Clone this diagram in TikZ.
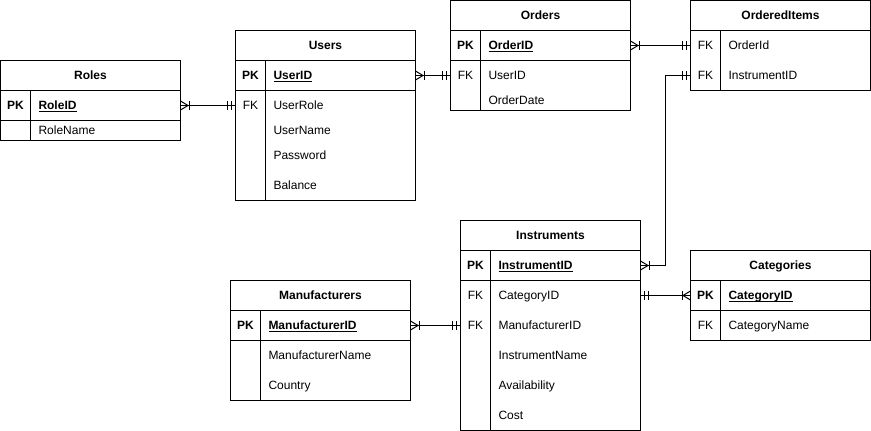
\documentclass[tikz,border=0pt]{standalone}
\usepackage{fontspec}
\setmainfont{Liberation Sans}
\newcommand\ulk[1]{\setbox0\hbox{#1}\rlap{\rule[-2.2pt]{\wd0}{0.9pt}}\box0}
\begin{document}
\begin{tikzpicture}[x=1pt,y=-1pt,
  ln/.style={line width=1pt},
  box/.style={draw, line width=1pt, inner sep=0, outer sep=0, anchor=north west, minimum width=180pt},
  txt/.style={inner sep=0, outer sep=0, text height=8.6pt, text depth=0pt, font=\fontsize{12}{14}\selectfont},
  ttl/.style={txt, font=\fontsize{12}{14}\selectfont\bfseries},
  pk/.style={txt, font=\fontsize{12}{14}\selectfont\bfseries},
  fk/.style={txt},
  fld/.style={txt, anchor=west},
  pkfld/.style={txt, anchor=west, font=\fontsize{12}{14}\selectfont\bfseries},
  rowa/.style={inner sep=0, outer sep=0, minimum width=180pt, minimum height=0pt},
  many/.pic={\draw[ln] (0,-4.5) -- (7.5,0) -- (0,4.5); \draw[ln] (8.5,-4.5) -- (8.5,4.5);},
  one/.pic={\draw[ln] (4,-4.5) -- (4,4.5); \draw[ln] (8,-4.5) -- (8,4.5);}
]
\useasboundingbox (-0.5,-0.5) rectangle (870.5,430.5);

% ---------- Roles ----------
\node[box, minimum height=80pt] (roles) at (0,60) {};
\draw[ln] (0,90) -- (180,90); \draw[ln] (0,120) -- (180,120); \draw[ln] (30,90) -- (30,140);
\node[ttl] (roles-t) at (90,75) {Roles};
\node[pk] (roles-k1) at (15,105) {PK};
\node[pkfld] (roles-f1) at (38,105) {\ulk{RoleID}};
\node[fld] (roles-f2) at (38,130) {RoleName};
\node[rowa] (roles-pk) at (90,105) {};

% ---------- Users ----------
\node[box, minimum height=170pt] (users) at (235,30) {};
\draw[ln] (235,60) -- (415,60); \draw[ln] (235,90) -- (415,90); \draw[ln] (265,60) -- (265,200);
\node[ttl] (users-t) at (325,45) {Users};
\node[pk] (users-k1) at (250,75) {PK};
\node[pkfld] (users-f1) at (273,75) {\ulk{UserID}};
\node[fk] (users-k2) at (250,105) {FK};
\node[fld] (users-f2) at (273,105) {UserRole};
\node[fld] (users-f3) at (273,130) {UserName};
\node[fld] (users-f4) at (273,155) {Password};
\node[fld] (users-f5) at (273,185) {Balance};
\node[rowa] (users-pk) at (325,75) {};
\node[rowa] (users-fk) at (325,105) {};

% ---------- Orders ----------
\node[box, minimum height=110pt] (orders) at (450,0) {};
\draw[ln] (450,30) -- (630,30); \draw[ln] (450,60) -- (630,60); \draw[ln] (480,30) -- (480,110);
\node[ttl] (orders-t) at (540,15) {Orders};
\node[pk] (orders-k1) at (465,45) {PK};
\node[pkfld] (orders-f1) at (488,45) {\ulk{OrderID}};
\node[fk] (orders-k2) at (465,75) {FK};
\node[fld] (orders-f2) at (488,75) {UserID};
\node[fld] (orders-f3) at (488,100) {OrderDate};
\node[rowa] (orders-pk) at (540,45) {};
\node[rowa] (orders-fk) at (540,75) {};

% ---------- OrderedItems ----------
\node[box, minimum height=90pt] (oi) at (690,0) {};
\draw[ln] (690,30) -- (870,30); \draw[ln] (720,30) -- (720,90);
\node[ttl] (oi-t) at (780,15) {OrderedItems};
\node[fk] (oi-k1) at (705,45) {FK};
\node[fld] (oi-f1) at (728,45) {OrderId};
\node[fk] (oi-k2) at (705,75) {FK};
\node[fld] (oi-f2) at (728,75) {InstrumentID};
\node[rowa] (oi-fk1) at (780,45) {};
\node[rowa] (oi-fk2) at (780,75) {};

% ---------- Instruments ----------
\node[box, minimum height=210pt] (inst) at (460,220) {};
\draw[ln] (460,250) -- (640,250); \draw[ln] (460,280) -- (640,280); \draw[ln] (490,250) -- (490,430);
\node[ttl] (inst-t) at (550,235) {Instruments};
\node[pk] (inst-k1) at (475,265) {PK};
\node[pkfld] (inst-f1) at (498,265) {\ulk{InstrumentID}};
\node[fk] (inst-k2) at (475,295) {FK};
\node[fld] (inst-f2) at (498,295) {CategoryID};
\node[fk] (inst-k3) at (475,325) {FK};
\node[fld] (inst-f3) at (498,325) {ManufacturerID};
\node[fld] (inst-f4) at (498,355) {InstrumentName};
\node[fld] (inst-f5) at (498,385) {Availability};
\node[fld] (inst-f6) at (498,415) {Cost};
\node[rowa] (inst-pk) at (550,265) {};
\node[rowa] (inst-fk1) at (550,295) {};
\node[rowa] (inst-fk2) at (550,325) {};

% ---------- Categories ----------
\node[box, minimum height=90pt] (cat) at (690,250) {};
\draw[ln] (690,280) -- (870,280); \draw[ln] (690,310) -- (870,310); \draw[ln] (720,280) -- (720,340);
\node[ttl] (cat-t) at (780,265) {Categories};
\node[pk] (cat-k1) at (705,295) {PK};
\node[pkfld] (cat-f1) at (728,295) {\ulk{CategoryID}};
\node[fk] (cat-k2) at (705,325) {FK};
\node[fld] (cat-f2) at (728,325) {CategoryName};
\node[rowa] (cat-pk) at (780,295) {};

% ---------- Manufacturers ----------
\node[box, minimum height=120pt] (man) at (230,280) {};
\draw[ln] (230,310) -- (410,310); \draw[ln] (230,340) -- (410,340); \draw[ln] (260,310) -- (260,400);
\node[ttl] (man-t) at (320,295) {Manufacturers};
\node[pk] (man-k1) at (245,325) {PK};
\node[pkfld] (man-f1) at (268,325) {\ulk{ManufacturerID}};
\node[fld] (man-f2) at (268,355) {ManufacturerName};
\node[fld] (man-f3) at (268,385) {Country};
\node[rowa] (man-pk) at (320,325) {};

% ---------- Connectors ----------
\draw[ln] (roles-pk.east) -- (users-fk.west);
\pic at (roles-pk.east) {many}; \pic[xscale=-1] at (users-fk.west) {one};

\draw[ln] (users-pk.east) -- (orders-fk.west);
\pic at (users-pk.east) {many}; \pic[xscale=-1] at (orders-fk.west) {one};

\draw[ln] (orders-pk.east) -- (oi-fk1.west);
\pic at (orders-pk.east) {many}; \pic[xscale=-1] at (oi-fk1.west) {one};

\draw[ln] (inst-pk.east) -- ++(25,0) |- (oi-fk2.west);
\pic at (inst-pk.east) {many}; \pic[xscale=-1] at (oi-fk2.west) {one};

\draw[ln] (inst-fk1.east) -- (cat-pk.west);
\pic at (inst-fk1.east) {one}; \pic[xscale=-1] at (cat-pk.west) {many};

\draw[ln] (man-pk.east) -- (inst-fk2.west);
\pic at (man-pk.east) {many}; \pic[xscale=-1] at (inst-fk2.west) {one};
\end{tikzpicture}
\end{document}
